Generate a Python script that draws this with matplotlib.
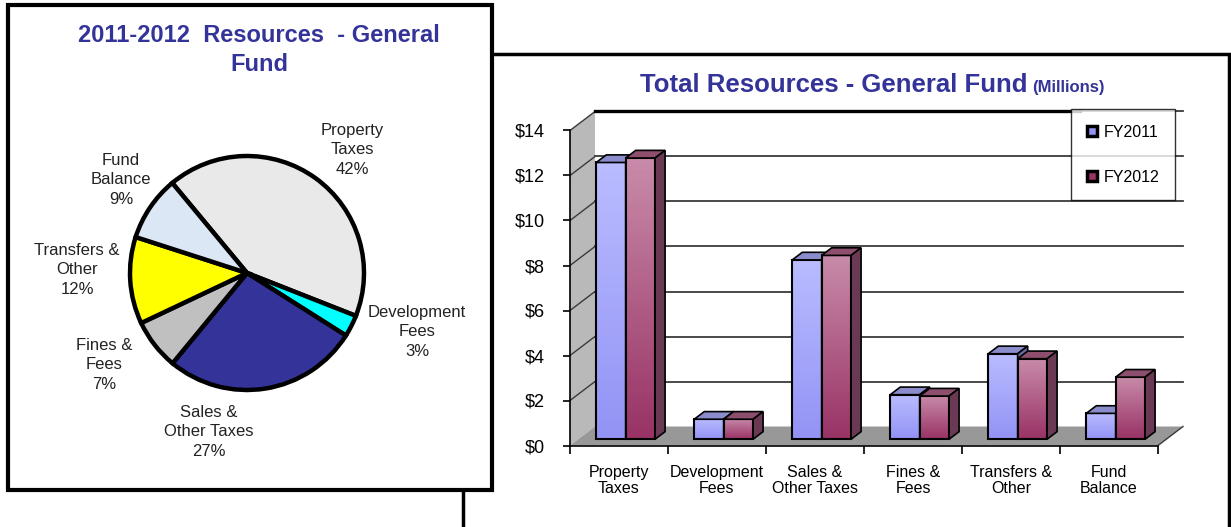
import numpy as np
import matplotlib.pyplot as plt
from matplotlib.patches import Rectangle, Polygon
from matplotlib.colors import LinearSegmentedColormap
from matplotlib.lines import Line2D

# data
pie_labels = ['Property\nTaxes', 'Development\nFees', 'Sales &\nOther Taxes',
              'Fines &\nFees', 'Transfers &\nOther', 'Fund\nBalance']
pie_share = [42, 3, 27, 7, 12, 9]
pie_colors = ['#e9e9e9', '#00ffff', '#333399', '#c0c0c0', '#ffff00', '#dce7f6']

cats = ['Property\nTaxes', 'Development\nFees', 'Sales &\nOther Taxes',
        'Fines &\nFees', 'Transfers &\nOther', 'Fund\nBalance']
fy2011 = [12.3, 0.89, 7.97, 1.98, 3.80, 1.15]
fy2012 = [12.5, 0.89, 8.17, 1.92, 3.58, 2.76]

W, H = 1231, 527
fig = plt.figure(figsize=(W/100, H/100), dpi=100)
arial = ['Liberation Sans', 'DejaVu Sans']
navy = '#333399'

def fx(x): return x / W
def fy(y): return 1 - y / H

# panel borders (bar panel first, pie box over it)
fig.patches.append(Rectangle((fx(463), fy(560)), fx(1229) - fx(463), fy(54) - fy(560),
                             transform=fig.transFigure, fill=False, ec='black', lw=2.5, zorder=0))
fig.patches.append(Rectangle((fx(8), fy(490)), fx(492) - fx(8), fy(5) - fy(490),
                             transform=fig.transFigure, fc='white', ec='black', lw=3, zorder=1))

# ---------------- pie ----------------
cx, cy, r = 247, 273, 117
axp = fig.add_axes([fx(cx - r), fy(cy + r), 2*r/W, 2*r/H])
axp.set_zorder(2)
wedges, _ = axp.pie(pie_share, colors=pie_colors, startangle=129.7, counterclock=False,
                    wedgeprops=dict(edgecolor='black', linewidth=3.2))
for w in wedges:
    w.set_clip_on(False)
axp.set_xlim(-1, 1); axp.set_ylim(-1, 1); axp.set_aspect('equal')
lab_px = [(352, 150), (417, 332), (209, 432), (104, 365), (77, 270), (121, 180)]
for lab, s, (px, py) in zip(pie_labels, pie_share, lab_px):
    axp.text((px - cx)/r, (cy - py)/r, f'{lab}\n{s}%', ha='center', va='center',
             fontsize=12, family=arial, color='#222222', linespacing=1.35, clip_on=False)
fig.text(fx(259), fy(41.7), '2011-2012  Resources  - General', ha='center', va='baseline',
         fontsize=17, fontweight='bold', family=arial, color=navy, zorder=3)
fig.text(fx(259), fy(70.7), 'Fund', ha='center', va='baseline',
         fontsize=17, fontweight='bold', family=arial, color=navy, zorder=3)

# ---------------- bars ----------------
x0p, x1p, y0p, y14p = 570, 1158, 445.5, 130.5
axb = fig.add_axes([fx(x0p), fy(y0p), (x1p - x0p)/W, (y0p - y14p)/H])
axb.set_zorder(0.5)
axb.patch.set_alpha(0)
DX, DY = 25/98, 19/22.5   # depth of the floor in data units

axb.add_patch(Polygon([(-0.5+DX, DY), (5.5+DX, DY), (5.5+DX, 14+DY), (-0.5+DX, 14+DY)],
                      closed=True, fc='white', ec='none', clip_on=False, zorder=1))
axb.add_patch(Polygon([(-0.5, 0), (-0.5+DX, DY), (-0.5+DX, 14+DY), (-0.5, 14)],
                      closed=True, fc='#b9b9b9', ec='none', clip_on=False, zorder=1))
axb.add_patch(Polygon([(-0.5, 0), (5.5, 0), (5.5+DX, DY), (-0.5+DX, DY)],
                      closed=True, fc='#989898', ec='none', clip_on=False, zorder=1))
for v in range(2, 15, 2):
    axb.plot([-0.5+DX, 5.5+DX], [v+DY, v+DY], color='#3a3a3a', lw=1.3, clip_on=False, zorder=2)
    axb.plot([-0.5, -0.5+DX], [v, v+DY], color='#3a3a3a', lw=1.0, clip_on=False, zorder=2)
axb.plot([-0.5+DX, 4.7], [14+DY, 14+DY], color='black', lw=2.4, clip_on=False, zorder=2)
axb.plot([5.5, 5.5+DX], [0, DY], color='#3a3a3a', lw=1.0, clip_on=False, zorder=2)

bw, f0, f1 = 0.30, 0.33, 0.73
styles = [dict(top='#b9bcff', bot='#9393f5', roof='#8a8ccb', side='#6b6ba8'),
          dict(top='#c88ba9', bot='#993366', roof='#8e4f6f', side='#6a3a55')]
grad = np.linspace(0, 1, 64).reshape(-1, 1)
z = 3
for i in range(len(cats)):
    for s, vals in enumerate([fy2011, fy2012]):
        v = vals[i]
        st = styles[s]
        xl = i - 0.316 + s*bw + f0*DX
        yb = f0*DY
        cm = LinearSegmentedColormap.from_list('g', [st['bot'], st['top']])
        axb.imshow(grad, cmap=cm, extent=[xl, xl + bw, yb, yb + v], origin='lower',
                   aspect='auto', zorder=z, clip_on=False)
        axb.add_patch(Rectangle((xl, yb), bw, v, fill=False, ec='black', lw=1.5,
                                clip_on=False, zorder=z + 0.1))
        ddx, ddy = (f1 - f0)*DX, (f1 - f0)*DY
        axb.add_patch(Polygon([(xl, yb+v), (xl+bw, yb+v), (xl+bw+ddx, yb+v+ddy), (xl+ddx, yb+v+ddy)],
                              closed=True, fc=st['roof'], ec='black', lw=1.2, clip_on=False, zorder=z + 0.2))
        axb.add_patch(Polygon([(xl+bw, yb), (xl+bw+ddx, yb+ddy), (xl+bw+ddx, yb+v+ddy), (xl+bw, yb+v)],
                              closed=True, fc=st['side'], ec='black', lw=1.2, clip_on=False, zorder=z + 0.2))
        z += 1

axb.set_xlim(-0.5, 5.5)
axb.set_ylim(0, 14)
for sp in ['top', 'right']:
    axb.spines[sp].set_visible(False)
for sp in ['left', 'bottom']:
    axb.spines[sp].set_color('black')
    axb.spines[sp].set_linewidth(1.2)
    axb.spines[sp].set_zorder(50)
axb.set_yticks(range(0, 15, 2))
axb.set_yticklabels([f'${v}' for v in range(0, 15, 2)], family=arial, fontsize=13)
axb.tick_params(axis='y', length=5, width=1.2, pad=13)
axb.set_xticks(np.arange(-0.5, 6, 1))
axb.set_xticklabels([])
axb.tick_params(axis='x', which='major', length=6, width=1.2)
axb.set_xticks(range(len(cats)), minor=True)
axb.set_xticklabels(cats, minor=True, family=arial, fontsize=11.5, linespacing=1.05)
axb.tick_params(axis='x', which='minor', length=0, pad=14)

handles = [Line2D([], [], ls='none', marker='s', markersize=7, markerfacecolor=styles[k]['bot'],
                  markeredgecolor='black', markeredgewidth=2.5) for k in range(2)]
leg = fig.legend(handles, ['FY2011', 'FY2012'], loc='upper left',
                 bbox_to_anchor=(fx(1071), fy(109)), bbox_transform=fig.transFigure,
                 frameon=True, fancybox=False, edgecolor='black', borderaxespad=0,
                 handlelength=0.6, handletextpad=0.45, labelspacing=1.85, borderpad=1.0,
                 prop=dict(family=arial, size=11.5))
leg.get_frame().set_linewidth(1.0)
leg.set_zorder(60)

fig.text(fx(1028), fy(92), 'Total Resources - General Fund', ha='right', va='baseline',
         fontsize=18.5, fontweight='bold', family=arial, color=navy)
fig.text(fx(1032), fy(92), '(Millions)', ha='left', va='baseline',
         fontsize=12, fontweight='bold', family=arial, color=navy)

fig.savefig('out.png', dpi=100)
